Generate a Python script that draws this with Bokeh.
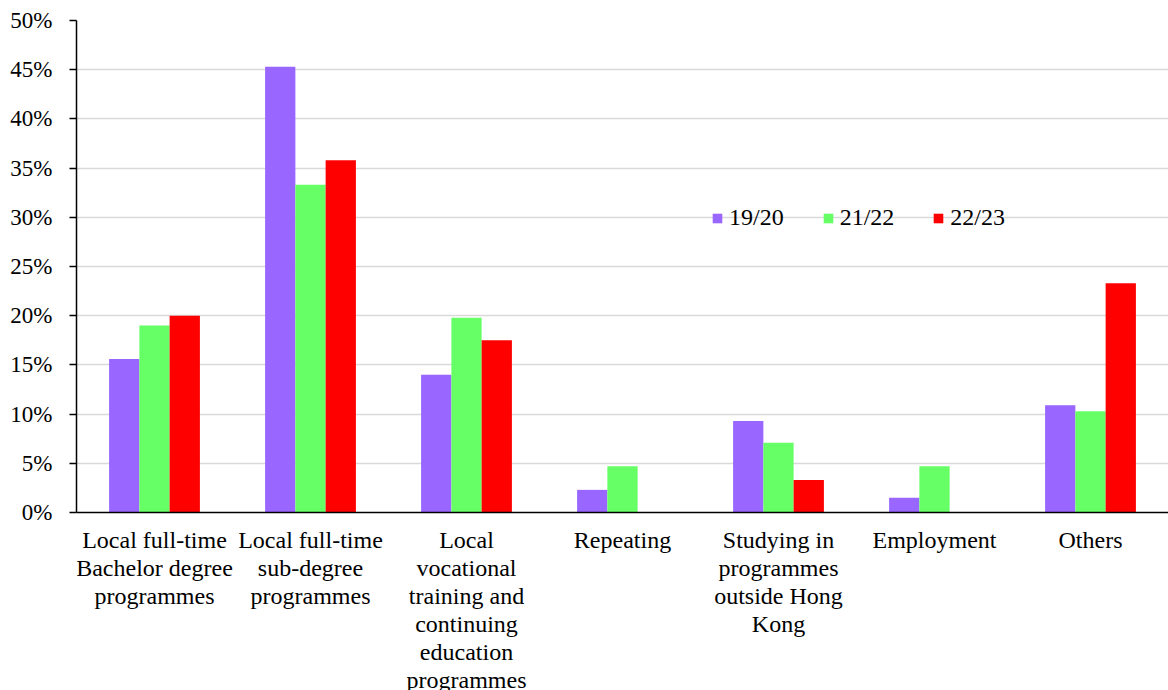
import numpy as np
from bokeh.plotting import figure
from bokeh.models import (ColumnDataSource, FixedTicker, PrintfTickFormatter,
                          Legend, LegendItem)
from bokeh.transform import dodge
from bokeh.embed import file_html
from bokeh.resources import INLINE

categories = [
    "Local full-time\nBachelor degree\nprogrammes",
    "Local full-time\nsub-degree\nprogrammes",
    "Local\nvocational\ntraining and\ncontinuing\neducation\nprogrammes",
    "Repeating",
    "Studying in\nprogrammes\noutside Hong\nKong",
    "Employment",
    "Others",
]
series_names = ["19/20", "21/22", "22/23"]
v_1920 = [15.6, 45.3, 14.0, 2.3, 9.3, 1.5, 10.9]
v_2122 = [19.0, 33.3, 19.8, 4.7, 7.1, 4.7, 10.3]
v_2223 = [20.0, 35.8, 17.5, np.nan, 3.3, np.nan, 23.3]
y_ticks = [0, 5, 10, 15, 20, 25, 30, 35, 40, 45, 50]
colors = ["#9966FF", "#66FF66", "#FF0000"]

FONT = "Liberation Serif"

source = ColumnDataSource(data=dict(cat=categories, s0=v_1920, s1=v_2122, s2=v_2223))

p = figure(x_range=categories, y_range=(0, 50), width=1168, height=710,
           output_backend="svg", toolbar_location=None,
           min_border_left=76, min_border_right=0, min_border_top=20,
           min_border_bottom=198)
p.outline_line_color = None
p.background_fill_color = "white"

bw = 0.194
offsets = [-bw, 0.0, bw]
renderers = []
for i, key in enumerate(["s0", "s1", "s2"]):
    r = p.vbar(x=dodge("cat", offsets[i], range=p.x_range), top=key, width=bw,
               source=source, fill_color=colors[i], line_color=None)
    renderers.append(r)

# grid
p.xgrid.grid_line_color = None
p.ygrid.grid_line_color = "#d9d9d9"
p.ygrid.grid_line_width = 1.5
p.ygrid.ticker = FixedTicker(ticks=y_ticks)

# y axis
p.yaxis.ticker = FixedTicker(ticks=y_ticks)
p.yaxis.formatter = PrintfTickFormatter(format="%d%%")
p.yaxis.axis_line_color = "black"
p.yaxis.axis_line_width = 1.5
p.yaxis.major_tick_line_color = "black"
p.yaxis.major_tick_line_width = 1.5
p.yaxis.major_tick_out = 7
p.yaxis.major_tick_in = 0
p.yaxis.minor_tick_line_color = None
p.yaxis.major_label_text_font = FONT
p.yaxis.major_label_text_font_size = "23px"
p.yaxis.major_label_text_color = "black"
p.yaxis.major_label_standoff = 17

# x axis
p.xaxis.axis_line_color = "black"
p.xaxis.axis_line_width = 1.5
p.xaxis.major_tick_line_color = None
p.xaxis.minor_tick_line_color = None
p.xaxis.major_label_text_font = FONT
p.xaxis.major_label_text_font_size = "24px"
p.xaxis.major_label_text_line_height = 1.08
p.xaxis.major_label_text_color = "black"
p.xaxis.major_label_standoff = 8

legend = Legend(items=[LegendItem(label=series_names[i], renderers=[renderers[i]])
                       for i in range(3)],
                orientation="horizontal", location=(635, 281))
legend.glyph_width = 12
legend.glyph_height = 12
legend.label_text_font = FONT
legend.label_text_font_size = "24px"
legend.label_text_color = "black"
legend.label_standoff = 6
legend.spacing = 38
legend.padding = 0
legend.margin = 0
legend.background_fill_alpha = 0
legend.border_line_color = None
p.add_layout(legend)

open("out.html", "w").write(file_html(p, INLINE))
